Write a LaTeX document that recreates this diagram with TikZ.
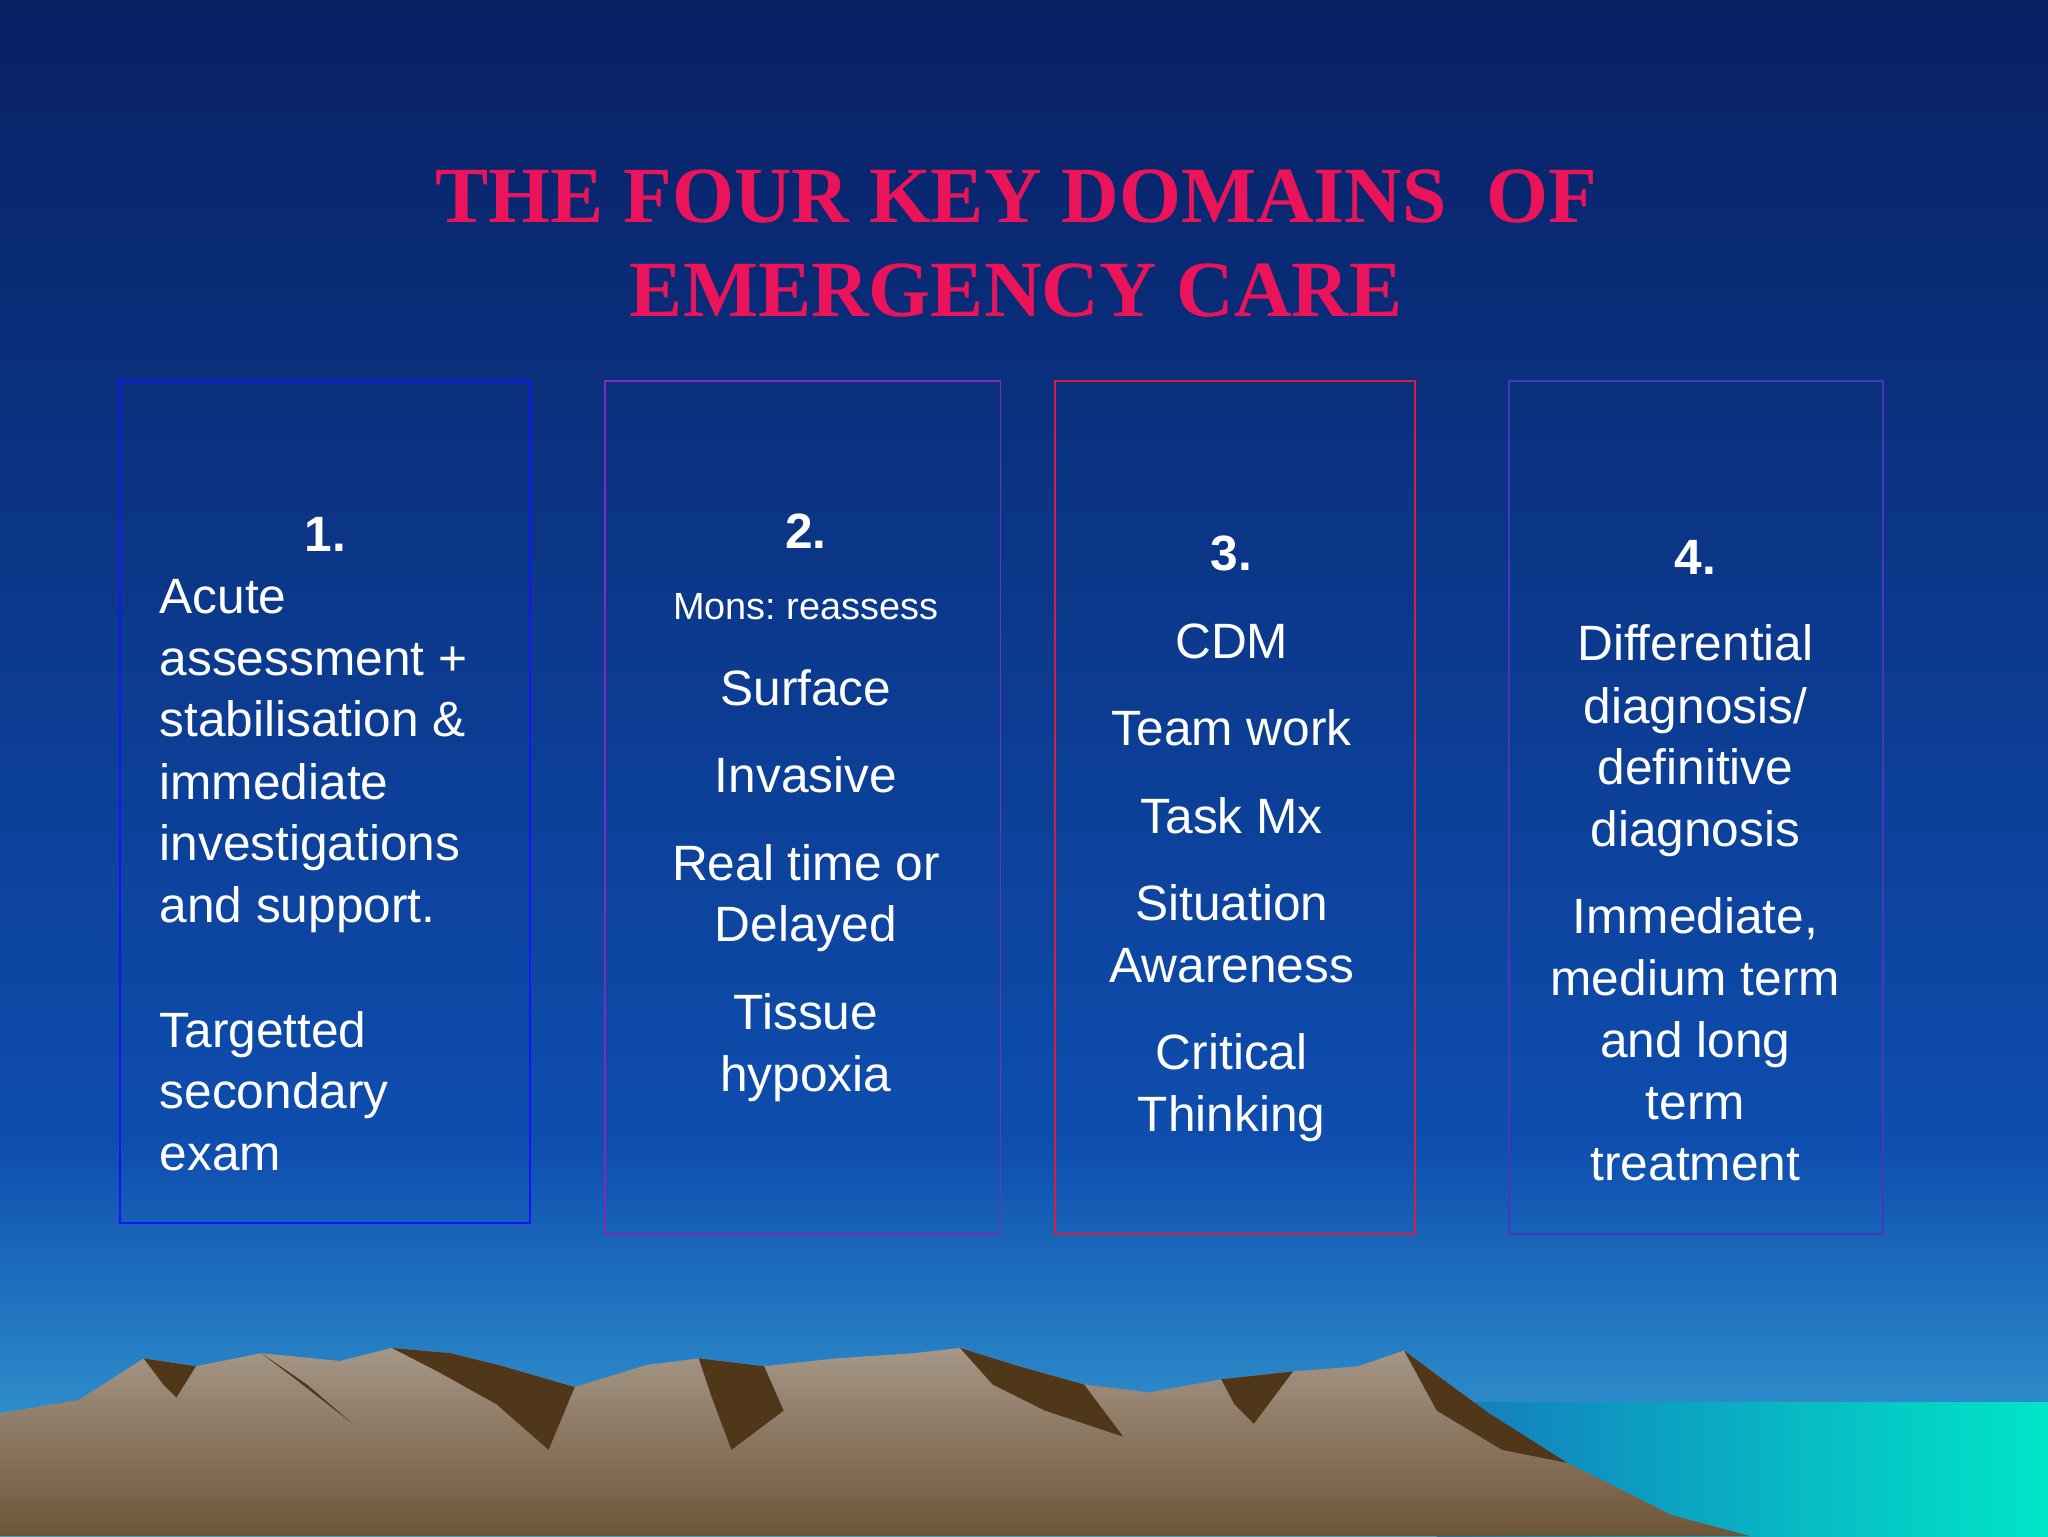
\documentclass[tikz,border=0pt]{standalone}
\usepackage{fontspec}
\setmainfont{Liberation Sans}
\newfontfamily\titlefont{Liberation Serif}
\frenchspacing
\definecolor{bgtop}{RGB}{8,32,100}
\definecolor{bgmid}{RGB}{14,78,175}
\definecolor{bgbot}{RGB}{60,170,215}
\definecolor{seaL}{RGB}{20,120,190}
\definecolor{seaR}{RGB}{0,230,200}
\definecolor{mtop}{RGB}{165,150,135}
\definecolor{mbot}{RGB}{110,85,55}
\definecolor{mdark}{RGB}{80,55,25}
\definecolor{ttlc}{RGB}{235,20,90}
\definecolor{b1c}{RGB}{20,20,255}
\definecolor{b2c}{RGB}{130,40,190}
\definecolor{b3c}{RGB}{215,30,60}
\definecolor{b4c}{RGB}{70,55,190}
\begin{document}
\begin{tikzpicture}[x=1pt,y=-1pt,
  txt/.style={text=white,font=\fontsize{38}{44}\selectfont,inner sep=0pt,anchor=base},
  lft/.style={txt,anchor=base west},
  num/.style={txt,font=\fontsize{38}{44}\selectfont\bfseries},
  small/.style={txt,font=\fontsize{29}{34}\selectfont},
  ttl/.style={text=ttlc,font=\fontsize{61}{70}\titlefont\bfseries,anchor=base,inner sep=0pt},
  dbox/.style={line width=1.5pt},
  facet/.style={fill=mdark}]
\useasboundingbox (0,0) rectangle (1568,1176);
\shade[top color=bgtop,bottom color=bgmid] (0,0) rectangle (1568,880);
\shade[top color=bgmid,bottom color=bgbot] (0,879) rectangle (1568,1176);
\shade[left color=seaL,right color=seaR] (1100,1074) rectangle (1568,1176);
\shade[top color=mtop,bottom color=mbot]
 (0,1082) -- (60,1072) -- (110,1040) -- (150,1046) -- (200,1036) -- (260,1042) -- (300,1032) -- (345,1036) -- (385,1046) -- (440,1062) -- (495,1045) -- (535,1040) -- (585,1046) -- (640,1040) -- (700,1036) -- (735,1032) -- (780,1046) -- (830,1060) -- (880,1066) -- (935,1056) -- (990,1050) -- (1040,1046) -- (1075,1034) -- (1110,1060) -- (1140,1082) -- (1200,1120) -- (1280,1160) -- (1340,1176) -- (0,1176) -- cycle;
\fill[facet] (110,1040) -- (150,1046) -- (135,1070) -- (125,1060) -- cycle;
\fill[facet] (300,1032) -- (345,1036) -- (385,1046) -- (440,1062) -- (420,1110) -- (380,1075) -- (335,1050) -- cycle;
\fill[facet] (200,1036) -- (235,1060) -- (270,1090) -- (225,1055) -- cycle;
\fill[facet] (535,1040) -- (585,1046) -- (600,1080) -- (560,1110) -- (545,1070) -- cycle;
\fill[facet] (735,1032) -- (780,1046) -- (830,1060) -- (860,1100) -- (800,1080) -- (760,1060) -- cycle;
\fill[facet] (1075,1034) -- (1110,1060) -- (1140,1082) -- (1200,1120) -- (1150,1110) -- (1100,1080) -- cycle;
\fill[facet] (935,1056) -- (990,1050) -- (960,1090) -- (945,1075) -- cycle;
\node[ttl] (t1) at (778,170) {THE FOUR KEY DOMAINS\ \ OF};
\node[ttl] (t2) at (778,242) {EMERGENCY CARE};
\draw[dbox,draw=b1c] (92,292) rectangle (406,936);
\draw[dbox,draw=b2c] (463,292) rectangle (766,945);
\draw[dbox,draw=b3c] (808,292) rectangle (1083,945);
\draw[dbox,draw=b4c] (1155,292) rectangle (1442,945);
\node[num] (n1) at (249,422) {1.};
\node[lft] (a1) at (122,470) {Acute};
\node[lft] (a2) at (122,517) {assessment +};
\node[lft] (a3) at (122,564) {stabilisation \&};
\node[lft] (a4) at (122,612) {immediate};
\node[lft] (a5) at (122,659) {investigations};
\node[lft] (a6) at (122,706) {and support.};
\node[lft] (a7) at (122,802) {Targetted};
\node[lft] (a8) at (122,849) {secondary};
\node[lft] (a9) at (122,896) {exam};
\node[num] (n2) at (617,420) {2.};
\node[small] (b1) at (617,474) {Mons: reassess};
\node[txt] (b2) at (617,540) {Surface};
\node[txt] (b3) at (617,607) {Invasive};
\node[txt] (b4) at (617,674) {Real time or};
\node[txt] (b5) at (617,721) {Delayed};
\node[txt] (b6) at (617,788) {Tissue};
\node[txt] (b7) at (617,836) {hypoxia};
\node[num] (n3) at (943,437) {3.};
\node[txt] (c1) at (943,504) {CDM};
\node[txt] (c2) at (943,571) {Team work};
\node[txt] (c3) at (943,638) {Task Mx};
\node[txt] (c4) at (943,705) {Situation};
\node[txt] (c5) at (943,752) {Awareness};
\node[txt] (c6) at (943,819) {Critical};
\node[txt] (c7) at (943,866) {Thinking};
\node[num] (n4) at (1298,440) {4.};
\node[txt] (d1) at (1298,506) {Differential};
\node[txt] (d2) at (1298,554) {diagnosis/};
\node[txt] (d3) at (1298,601) {definitive};
\node[txt] (d4) at (1298,648) {diagnosis};
\node[txt] (d5) at (1298,715) {Immediate,};
\node[txt] (d6) at (1298,762) {medium term};
\node[txt] (d7) at (1298,810) {and long};
\node[txt] (d8) at (1298,857) {term};
\node[txt] (d9) at (1298,904) {treatment};
\end{tikzpicture}
\end{document}
